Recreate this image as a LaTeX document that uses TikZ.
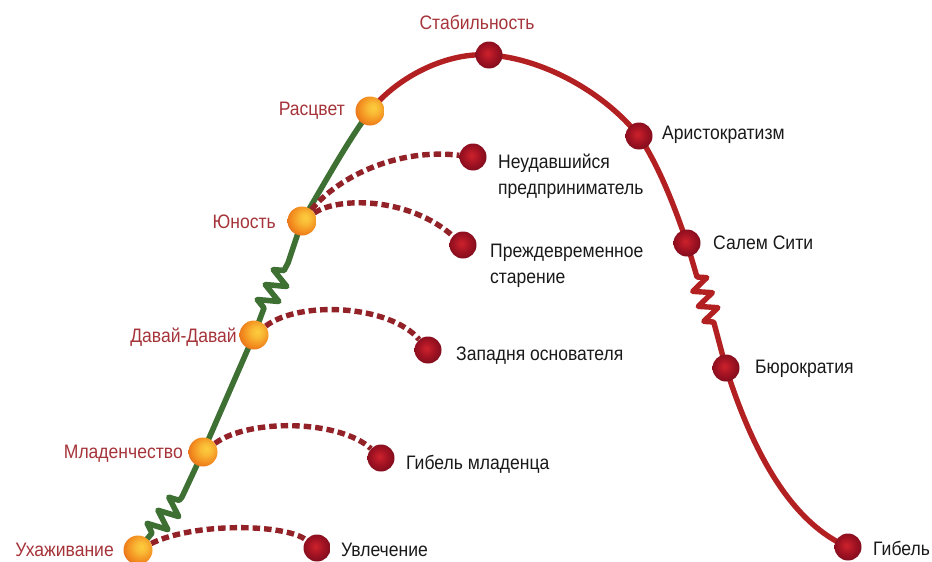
\documentclass[tikz,border=0pt]{standalone}
\usepackage{fontspec}
\setmainfont{Liberation Sans}[FakeStretch=0.9]
\usetikzlibrary{backgrounds,decorations.pathmorphing}
\definecolor{lgreen}{RGB}{62,112,52}
\definecolor{lred}{RGB}{178,32,34}
\definecolor{ldash}{RGB}{146,34,40}
\definecolor{labred}{RGB}{165,52,58}
\definecolor{labblk}{RGB}{25,25,25}
\definecolor{oy}{RGB}{252,205,62}
\definecolor{om}{RGB}{242,138,30}
\definecolor{oe}{RGB}{218,84,24}
\definecolor{od}{RGB}{170,50,20}
\definecolor{rc}{RGB}{205,34,44}
\definecolor{rm}{RGB}{160,18,34}
\definecolor{re}{RGB}{105,10,26}
\definecolor{rd}{RGB}{62,4,14}
\pgfdeclareradialshading{orangeball}{\pgfpoint{6bp}{6bp}}{color(0bp)=(oy); color(10bp)=(oy!70!om); color(24bp)=(om); color(40bp)=(oe); color(54bp)=(od); color(80bp)=(od)}
\pgfdeclareradialshading{darkball}{\pgfpoint{-3bp}{3bp}}{color(0bp)=(rc); color(16bp)=(rm); color(36bp)=(re); color(50bp)=(rd); color(80bp)=(rd)}
\tikzset{
  obal/.style={circle, minimum size=29pt, inner sep=0pt, shading=orangeball},
  dbal/.style={circle, minimum size=27pt, inner sep=0pt, shading=darkball},
  llab/.style={anchor=east, inner sep=0pt, text=labred, font=\fontsize{19.5}{26}\selectfont, text height=13.5pt, text depth=0pt},
  rlab/.style={anchor=west, inner sep=0pt, text=labblk, font=\fontsize{19.5}{26}\selectfont, text height=13.5pt, text depth=0pt},
  rlab2/.style={anchor=west, inner sep=0pt, text=labblk, font=\fontsize{19.5}{26}\selectfont, align=left},
  gline/.style={draw=lgreen, line width=5.6pt, line join=round, line cap=round},
  rline/.style={draw=lred, line width=5.4pt, line join=round, line cap=round},
  dline/.style={draw=ldash, line width=5.4pt, dash pattern=on 7.5pt off 4pt},
  zz/.style={decoration={zigzag, segment length=17pt, amplitude=10pt}},
  rzz/.style={decoration={zigzag, segment length=16pt, amplitude=9pt}}
}
\begin{document}
\begin{tikzpicture}[x=1pt,y=-1pt]
\useasboundingbox (0,0) rectangle (932,562);
% main stage balls
\node[obal] (u) at (138,550) {};
\node[obal] (m) at (203,452) {};
\node[obal] (d) at (254,335) {};
\node[obal] (y) at (302,221) {};
\node[obal] (r) at (370,111) {};
\node[dbal] (s) at (489,55) {};
\node[dbal] (a) at (639,136) {};
\node[dbal] (c) at (687,243) {};
\node[dbal] (b) at (726,368) {};
\node[dbal] (g) at (848,547) {};
% side balls
\node[dbal] (uv) at (317,548) {};
\node[dbal] (gm) at (381,458) {};
\node[dbal] (zo) at (428,350) {};
\node[dbal] (ps) at (463,245) {};
\node[dbal] (nu) at (473,157) {};
% labels
\node[llab] (lu) at (114,550) {Ухаживание};
\node[llab] (lm) at (183,452) {Младенчество};
\node[llab] (ld) at (237,336) {Давай-Давай};
\node[llab] (ly) at (276,222) {Юность};
\node[llab] (lr) at (345,109) {Расцвет};
\node[llab, anchor=center] (ls) at (477,23) {Стабильность};
\node[rlab] (la) at (662,133) {Аристократизм};
\node[rlab] (lc) at (713,243) {Салем Сити};
\node[rlab] (lb) at (755,367) {Бюрократия};
\node[rlab] (lg) at (873,549) {Гибель};
\node[rlab] (luv) at (341,550) {Увлечение};
\node[rlab] (lgm) at (406,463) {Гибель младенца};
\node[rlab] (lzo) at (456,354) {Западня основателя};
\node[rlab2] (lnu) at (498,176) {Неудавшийся\\предприниматель};
\node[rlab2] (lps) at (490,266) {Преждевременное\\старение};
\begin{scope}[on background layer]
\coordinate (gz1) at (152,533);
\coordinate (gz2) at (182,497);
\coordinate (gz3) at (264,308);
\coordinate (gz4) at (288,263);
\coordinate (rz1) at (697,277);
\coordinate (rz2) at (714,323);
\path[gline] (u.center) -- (gz1) decorate[zz]{-- (gz2)} -- (m.center) -- (d.center) -- (gz3) decorate[zz]{-- (gz4)} -- (y.center) .. controls (322,188) and (345,145) .. (r.center);
\path[rline] (r.center) .. controls (400,74) and (450,52) .. (s.center) .. controls (540,58) and (602,90) .. (a.center) .. controls (660,168) and (675,208) .. (c.center) -- (rz1) decorate[rzz]{-- (rz2)} -- (b.center) .. controls (752,450) and (790,522) .. (g.center);
\draw[dline] (u) .. controls (195,522) and (285,524) .. (uv);
\draw[dline] (m) .. controls (250,418) and (340,420) .. (gm);
\draw[dline] (d) .. controls (300,300) and (390,305) .. (zo);
\draw[dline] (y) .. controls (340,175) and (400,148) .. (nu);
\draw[dline] (y) .. controls (340,196) and (410,198) .. (ps);
\end{scope}
\end{tikzpicture}
\end{document}
